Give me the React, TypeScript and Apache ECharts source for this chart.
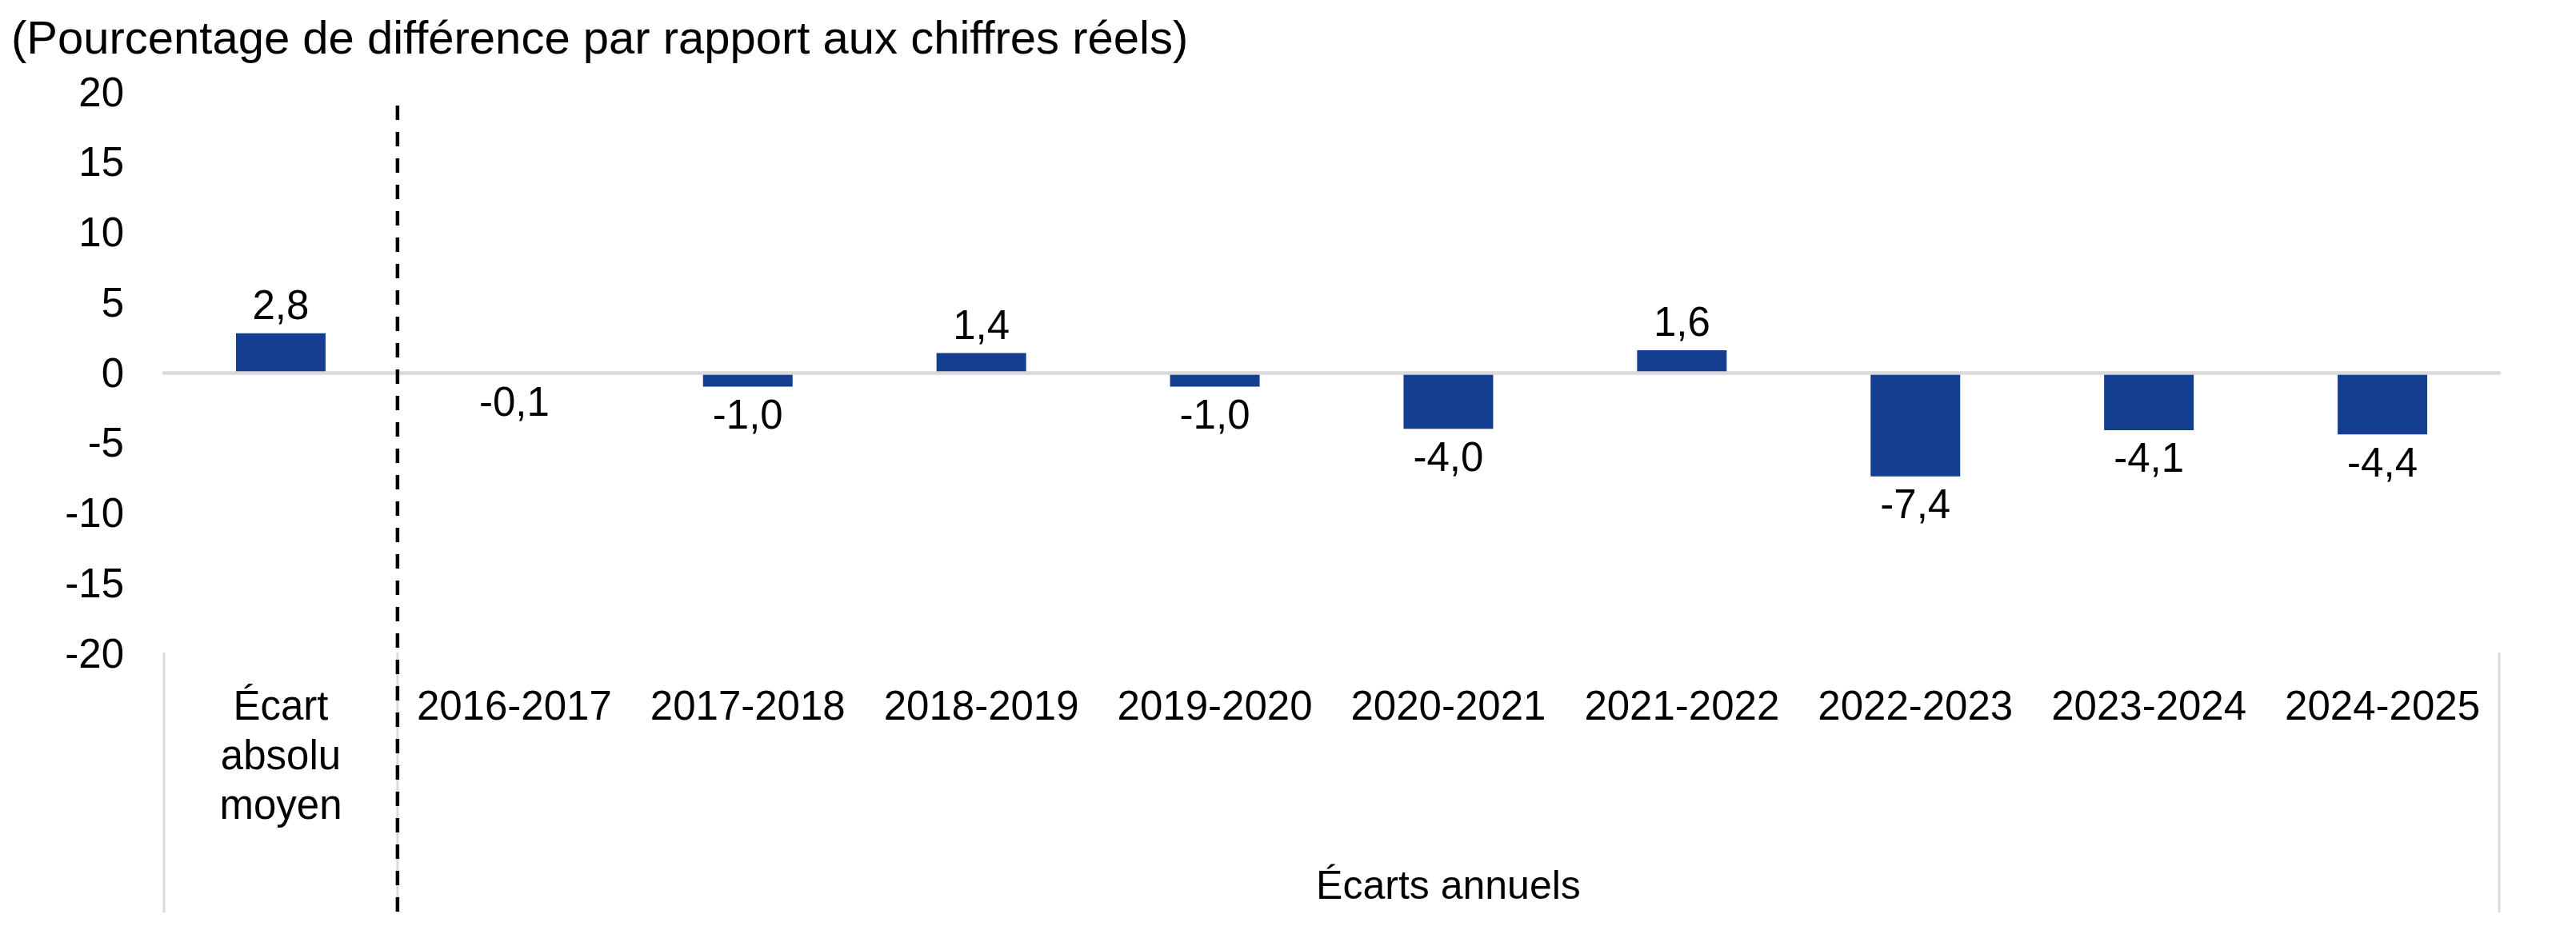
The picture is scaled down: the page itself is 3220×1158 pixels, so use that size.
import React, { useEffect, useRef } from "react";
import * as echarts from "echarts";

const categories = [
  "Écart\nabsolu\nmoyen",
  "2016-2017",
  "2017-2018",
  "2018-2019",
  "2019-2020",
  "2020-2021",
  "2021-2022",
  "2022-2023",
  "2023-2024",
  "2024-2025",
];
const values = [2.8, -0.1, -1.0, 1.4, -1.0, -4.0, 1.6, -7.4, -4.1, -4.4];
const yMin = -20;
const yMax = 20;
const yStep = 5;
const titleText = "(Pourcentage de différence par rapport aux chiffres réels)";
const groupLabel = "Écarts annuels";

const W = 3220;
const H = 1158;
const FONT = "'Liberation Sans', Arial, Helvetica, sans-serif";

export default function App() {
  const ref = useRef<HTMLDivElement>(null);

  useEffect(() => {
    document.body.style.margin = "0";
    if (!ref.current) return;
    const chart = echarts.init(ref.current, undefined, { renderer: "svg" });

    const gridLeft = 205;
    const gridRight = 96;
    const gridTop = 115;
    const gridBottom = 341;
    const plotLeft = gridLeft;
    const plotRight = W - gridRight;
    const plotBottom = H - gridBottom;
    const catW = (plotRight - plotLeft) / categories.length;
    const sepX = plotLeft + catW;
    const sepTop = plotBottom - 1;
    const sepBottom = 1141;

    chart.setOption({
      animation: false,
      backgroundColor: "#ffffff",
      textStyle: { fontFamily: FONT },
      grid: {
        left: gridLeft,
        right: gridRight,
        top: gridTop,
        bottom: gridBottom,
        containLabel: false,
      },
      xAxis: [
        {
          type: "category",
          data: categories,
          position: "bottom",
          axisLine: { show: false, onZero: false },
          axisTick: { show: false },
          splitLine: { show: false },
          axisLabel: {
            interval: 0,
            margin: 34,
            fontSize: 51,
            lineHeight: 62,
            color: "#000000",
            fontFamily: FONT,
          },
        },
        {
          type: "category",
          data: categories,
          position: "top",
          z: 3,
          axisLine: {
            show: true,
            onZero: true,
            lineStyle: { color: "#d9d9d9", width: 4.5 },
          },
          axisTick: { show: false },
          axisLabel: { show: false },
          splitLine: { show: false },
        },
      ],
      yAxis: {
        type: "value",
        min: yMin,
        max: yMax,
        interval: yStep,
        axisLine: { show: false },
        axisTick: { show: false },
        splitLine: { show: false },
        axisLabel: {
          margin: 50,
          fontSize: 51,
          color: "#000000",
          fontFamily: FONT,
        },
      },
      series: [
        {
          type: "bar",
          xAxisIndex: 0,
          barWidth: 112,
          itemStyle: { color: "#143F91" },
          data: values.map((v) => ({
            value: v,
            label: { position: v >= 0 ? "top" : "bottom" },
          })),
          label: {
            show: true,
            distance: 9,
            fontSize: 51,
            lineHeight: 52,
            color: "#000000",
            fontFamily: FONT,
            formatter: (p: any) => Number(p.value).toFixed(1).replace(".", ","),
          },
        },
      ],
      graphic: [
        {
          type: "text",
          x: 14,
          y: 46,
          style: {
            text: titleText,
            fontSize: 58,
            fontFamily: FONT,
            fill: "#000000",
            align: "left",
            verticalAlign: "middle",
          },
        },
        ...[plotLeft, sepX, plotRight].map((x) => ({
          type: "line",
          z: 1,
          shape: { x1: x, y1: sepTop, x2: x, y2: sepBottom },
          style: { stroke: "#d9d9d9", lineWidth: 3 },
        })),
        {
          type: "line",
          z: 5,
          shape: { x1: sepX, y1: 132, x2: sepX, y2: 1140 },
          style: { stroke: "#000000", lineWidth: 4.5, lineDash: [18, 15] },
        },
        {
          type: "text",
          x: (sepX + plotRight) / 2,
          y: 1107,
          style: {
            text: groupLabel,
            fontSize: 50,
            fontFamily: FONT,
            fill: "#000000",
            align: "center",
            verticalAlign: "middle",
          },
        },
      ],
    });

    return () => {
      chart.dispose();
    };
  }, []);

  return <div ref={ref} style={{ width: W, height: H }} />;
}
